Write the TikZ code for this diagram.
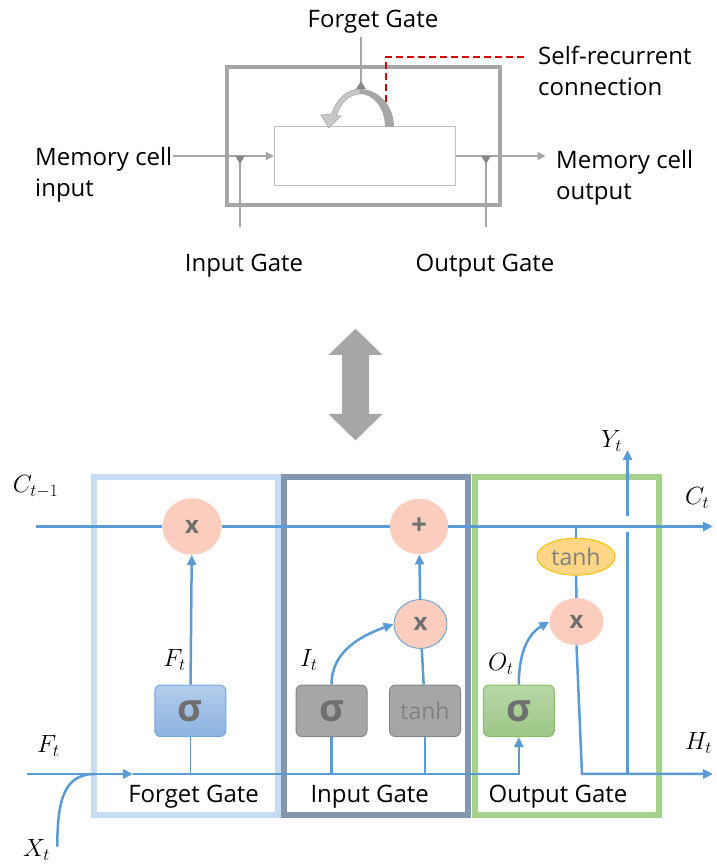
\documentclass[tikz,border=0pt]{standalone}
\usepackage[no-math]{fontspec}
\setmainfont{Open Sans}
\usepackage{amsmath}
\usetikzlibrary{arrows.meta,positioning,calc,shapes.geometric}

\definecolor{cellgray}{HTML}{A6A6A6}
\definecolor{valvegray}{HTML}{878787}
\definecolor{arclight}{HTML}{C8C8C8}
\definecolor{recred}{HTML}{D00000}
\definecolor{flowblue}{HTML}{5B9BD5}
\definecolor{fgframe}{HTML}{C5DCF3}
\definecolor{inframe}{HTML}{8497B0}
\definecolor{outframe}{HTML}{A9D18E}
\definecolor{opfill}{HTML}{FBCDBE}
\definecolor{opgray}{HTML}{6F6F6F}
\definecolor{tanhgray}{HTML}{808080}
\definecolor{tanhfill}{HTML}{FFD685}
\definecolor{tanhedge}{HTML}{F2C200}
\definecolor{sigbluetop}{HTML}{B3CCEB}
\definecolor{sigbluebot}{HTML}{8DB3E2}
\definecolor{siggreentop}{HTML}{B7D8A6}
\definecolor{siggreenbot}{HTML}{9DC785}
\definecolor{siggreenedge}{HTML}{86BD66}

\begin{document}
\begin{tikzpicture}[x=1pt,y=1pt,
  txt/.style={font=\fontsize{24}{31}\selectfont,inner sep=0pt,align=left},
  mth/.style={font=\fontsize{26}{26}\selectfont,inner sep=0pt},
  grayarr/.style={draw=cellgray,line width=2pt,-{Triangle[length=8pt,width=8pt]}},
  gateline/.style={draw=cellgray,line width=2pt,
                   -{Triangle[reversed,length=8pt,width=9pt,color=valvegray]}},
  frame/.style={draw,line width=6pt,minimum width=184pt,minimum height=338pt,inner sep=0pt},
  flow/.style={draw=flowblue,line width=2.5pt},
  flowarr/.style={flow,-{Triangle[length=10pt,width=9pt]}},
  opnode/.style={ellipse,fill=opfill,inner sep=0pt,text=opgray,
                 font=\bfseries\fontsize{24}{24}\selectfont},
  gatebox/.style={rectangle,rounded corners=6pt,inner sep=0pt,line width=1pt,
                  minimum width=71pt,minimum height=51.5pt},
  sig/.style={gatebox,text=opgray,font=\bfseries\fontsize{38}{38}\selectfont}
]
\useasboundingbox (0,0) rectangle (716,867);

% Memory cell
\node[draw=cellgray,line width=4pt,minimum width=273pt,minimum height=138pt] (cellframe) at (363.5,730.5) {};
\node[draw=cellgray!70,line width=1.2pt,minimum width=181pt,minimum height=59pt] (cellbox) at (365,711) {};
\node[txt,anchor=base west] (cellin) at (35,670) {Memory cell\\input};
\node[txt,anchor=base west] (cellout) at (556,667) {Memory cell\\output};
\node[txt,anchor=base] (fgtxt) at (373,839) {Forget Gate};
\node[txt,anchor=base] (igtxt) at (244,595.3) {Input Gate};
\node[txt,anchor=base] (ogtxt) at (485,595.3) {Output Gate};
\node[txt,anchor=base west] (selfrec) at (538,771.3) {Self-recurrent\\connection};
\coordinate (fgtop) at (361,830);
\coordinate (arctop) at (361,778);
\coordinate (igbot) at (240,640);
\coordinate (ogbot) at (486,640);
\coordinate (outtip) at (545.5,711);
\coordinate (arcside) at (386,765);
\coordinate (recend) at (527,810);

% Self-recurrent loop
\fill[cellgray] (394,740) arc[start angle=0,end angle=90,x radius=34,y radius=38]
  -- (360,773) arc[start angle=90,end angle=0,x radius=25,y radius=33] -- cycle;
\filldraw[fill=arclight,draw=cellgray,line width=0.6pt]
  (360,778) arc[start angle=90,end angle=160,x radius=30,y radius=38]
  -- (321,752) -- (329,739) -- (341,751)
  -- (336.5,751.3) arc[start angle=160,end angle=90,x radius=25,y radius=33] -- cycle;
\draw[recred,line width=2pt,dash pattern=on 7pt off 4pt] (arcside) |- (recend);

% Gates and flow
\draw[grayarr] (cellin.east |- cellbox.west) -- (cellbox.west);
\draw[grayarr] (cellbox.east) -- (outtip);
\draw[gateline] (fgtop) -- (arctop);
\draw[gateline] (igbot) -- (igbot |- cellbox.west);
\draw[gateline] (ogbot) -- (ogbot |- cellbox.east);

% Correspondence
\fill[cellgray] (355.5,538.3) -- (382.5,512) -- (369,512) -- (369,453) -- (382.5,453)
  -- (355.5,426.6) -- (328.5,453) -- (342,453) -- (342,512) -- (328.5,512) -- cycle;

% LSTM cell
\node[frame,draw=fgframe] (frgbox) at (185.6,220.5) {};
\node[frame,draw=inframe] (inpbox) at (375.9,220.5) {};
\node[frame,draw=outframe] (outbox) at (566.8,220.5) {};
\node[txt,anchor=base] (frglbl) at (193.6,64) {Forget Gate};
\node[txt,anchor=base] (inplbl) at (369.7,64) {Input Gate};
\node[txt,anchor=base] (outlbl) at (558,64) {Output Gate};

\node[opnode,minimum width=59pt,minimum height=56.5pt] (fmul) at (192,340.5) {x};
\node[opnode,minimum width=58.5pt,minimum height=55.5pt,font=\bfseries\fontsize{28}{28}\selectfont] (cadd) at (419,340.5) {+};
\node[opnode,draw=flowblue,line width=0.8pt,minimum width=53pt,minimum height=49pt] (imul) at (420.5,243) {x};
\node[opnode,minimum width=54pt,minimum height=47pt] (omul) at (576.5,245.3) {x};
\node[ellipse,fill=tanhfill,draw=tanhedge,line width=1pt,minimum width=78pt,minimum height=37pt,
      inner sep=0pt,text=tanhgray,font=\fontsize{23}{23}\selectfont] (otanh) at (576,310.3) {tanh};

\node[sig,top color=sigbluetop,bottom color=sigbluebot,draw=flowblue!85] (fsig) at (190.3,156.2) {σ};
\node[sig,fill=cellgray,draw=valvegray] (isig) at (331.5,156.2) {σ};
\node[gatebox,fill=cellgray,draw=valvegray,text=tanhgray,font=\fontsize{23}{23}\selectfont] (itanh) at (425,156.2) {tanh};
\node[sig,top color=siggreentop,bottom color=siggreenbot,draw=siggreenedge] (osig) at (518.8,156.2) {σ};

\coordinate (cin) at (36,340.5);
\coordinate (cout) at (713,340.5);
\coordinate (hin) at (27,93);
\coordinate (fmid) at (133,93);
\coordinate (xin) at (57.3,20.3);
\coordinate (xjoin) at (95,93);
\coordinate (hturn) at (582,93);
\coordinate (hout) at (713,93);
\coordinate (ybot) at (627.5,93);
\coordinate (ytop) at (627.5,417);

% Cell state
\draw[flow] (cin) -- (fmul);
\draw[flow] (fmul) -- (cadd);
\draw[flowarr] (cadd) -- (cout);
% Forget
\draw[flowarr] (fsig) -- (fmul);
\draw[flow,line width=1pt] (fsig) -- (fsig |- hin);
\draw[flowarr] (hin) -- (fmid);
\draw[flow] (xin) .. controls (57.3,67) and (64,93) .. (xjoin);
% Input
\draw[flowarr] (fmid) -| (osig);
\draw[flow] (isig) -- (isig |- hin);
\draw[flow] (itanh) -- (itanh |- hin);
\draw[flow] (itanh) -- (imul);
\draw[flowarr] (imul) -- (cadd);
\draw[flowarr] (isig.north) to[out=90,in=200] (imul.west);
% Output
\draw[flowarr] (osig.north) to[out=90,in=210] (omul.west);
\draw[flow] (otanh) -- (otanh |- cout);
\draw[flow] (otanh) -- (omul);
\draw[flowarr] (omul.south) -- (hturn) -- (hout);
\draw[flow] (ybot) -- ($(ybot |- cout)+(0,-6)$);
\draw[flowarr] ($(ybot |- cout)+(0,10)$) -- (ytop);

% Labels
\node[mth,anchor=base west] (cprev) at (12.7,374) {$C_{t-1}$};
\node[mth,anchor=base west] (cnext) at (685,362) {$C_t$};
\node[mth,anchor=base west] (ylbl) at (601,419) {$Y_t$};
\node[mth,anchor=base west] (hlbl) at (685,117) {$H_t$};
\node[mth,anchor=base east] (ftop) at (186,200) {$F_t$};
\node[mth,anchor=base west] (ilbl) at (300,200) {$I_t$};
\node[mth,anchor=base west] (olbl) at (488,196) {$O_t$};
\node[mth,anchor=base west] (fbot) at (37,114) {$F_t$};
\node[mth,anchor=base west] (xlbl) at (23,10) {$X_t$};
\end{tikzpicture}
\end{document}
